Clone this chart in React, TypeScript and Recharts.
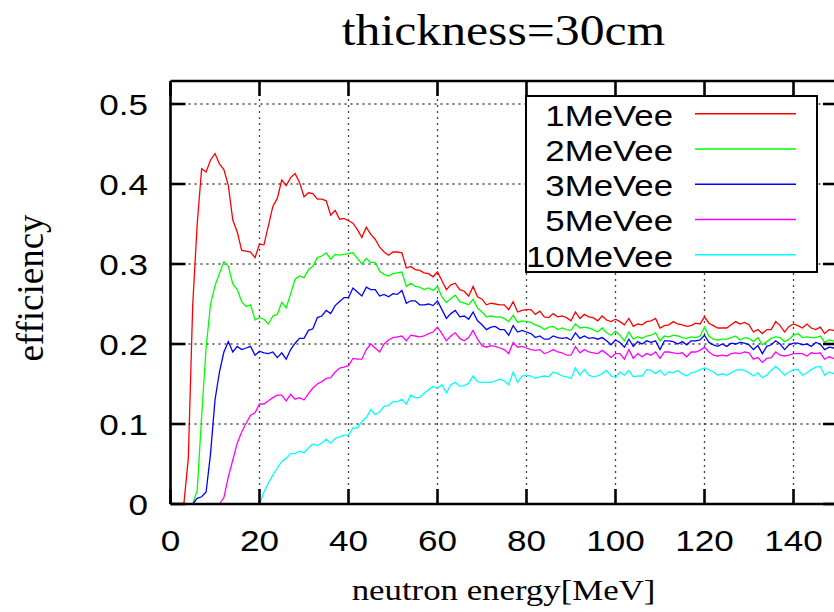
import React from 'react';
import { LineChart, Line, XAxis, YAxis, CartesianGrid } from 'recharts';

const energies = [
  0, 1, 2, 3, 4, 5, 6, 7, 8, 9, 10, 11, 12, 13, 14, 15, 16, 17, 18, 19,
  20, 21, 22, 23, 24, 25, 26, 27, 28, 29, 30, 31, 32, 33, 34, 35, 36, 37, 38, 39,
  40, 41, 42, 43, 44, 45, 46, 47, 48, 49, 50, 51, 52, 53, 54, 55, 56, 57, 58, 59,
  60, 61, 62, 63, 64, 65, 66, 67, 68, 69, 70, 71, 72, 73, 74, 75, 76, 77, 78, 79,
  80, 81, 82, 83, 84, 85, 86, 87, 88, 89, 90, 91, 92, 93, 94, 95, 96, 97, 98, 99,
  100, 101, 102, 103, 104, 105, 106, 107, 108, 109, 110, 111, 112, 113, 114, 115, 116, 117, 118, 119,
  120, 121, 122, 123, 124, 125, 126, 127, 128, 129, 130, 131, 132, 133, 134, 135, 136, 137, 138, 139,
  140, 141, 142, 143, 144, 145, 146, 147, 148, 149, 150,
];

const eff1MeVee = [
  null, null, null, 0, 0.057, 0.25, 0.35, 0.419, 0.415, 0.43,
  0.438, 0.425, 0.418, 0.398, 0.355, 0.34, 0.317, 0.316, 0.315, 0.308,
  0.325, 0.324, 0.348, 0.372, 0.382, 0.405, 0.398, 0.408, 0.413, 0.402,
  0.384, 0.389, 0.388, 0.381, 0.381, 0.379, 0.361, 0.367, 0.356, 0.357,
  0.354, 0.351, 0.343, 0.333, 0.346, 0.337, 0.331, 0.321, 0.315, 0.311,
  0.315, 0.315, 0.314, 0.295, 0.297, 0.293, 0.292, 0.289, 0.288, 0.284,
  0.29, 0.279, 0.268, 0.274, 0.276, 0.268, 0.266, 0.26, 0.272, 0.259,
  0.256, 0.249, 0.251, 0.25, 0.249, 0.249, 0.243, 0.253, 0.24, 0.242,
  0.243, 0.243, 0.237, 0.241, 0.234, 0.233, 0.238, 0.234, 0.235, 0.233,
  0.229, 0.24, 0.232, 0.237, 0.234, 0.233, 0.229, 0.235, 0.23, 0.228,
  0.231, 0.228, 0.224, 0.232, 0.222, 0.225, 0.224, 0.228, 0.229, 0.232,
  0.22, 0.223, 0.224, 0.228, 0.225, 0.224, 0.222, 0.223, 0.226, 0.225,
  0.234, 0.226, 0.223, 0.22, 0.22, 0.22, 0.224, 0.228, 0.225, 0.227,
  0.224, 0.215, 0.218, 0.213, 0.218, 0.218, 0.228, 0.223, 0.215, 0.222,
  0.225, 0.223, 0.22, 0.225, 0.22, 0.218, 0.221, 0.213, 0.218, 0.217,
  0.216,
];

const eff2MeVee = [
  null, null, null, null, null, 0, 0.017, 0.11, 0.195, 0.25,
  0.273, 0.288, 0.303, 0.297, 0.275, 0.268, 0.253, 0.247, 0.249, 0.23,
  0.233, 0.231, 0.225, 0.235, 0.237, 0.252, 0.245, 0.263, 0.281, 0.285,
  0.283, 0.293, 0.297, 0.308, 0.31, 0.314, 0.306, 0.312, 0.311, 0.312,
  0.313, 0.314, 0.307, 0.3, 0.307, 0.302, 0.302, 0.291, 0.287, 0.285,
  0.288, 0.289, 0.29, 0.272, 0.276, 0.272, 0.271, 0.268, 0.27, 0.267,
  0.272, 0.259, 0.252, 0.257, 0.261, 0.253, 0.251, 0.249, 0.256, 0.245,
  0.24, 0.234, 0.235, 0.234, 0.234, 0.232, 0.228, 0.236, 0.227, 0.229,
  0.228, 0.227, 0.224, 0.222, 0.218, 0.221, 0.222, 0.218, 0.22, 0.218,
  0.217, 0.225, 0.22, 0.221, 0.22, 0.218, 0.215, 0.22, 0.214, 0.211,
  0.216, 0.211, 0.204, 0.215, 0.206, 0.209, 0.207, 0.21, 0.211, 0.214,
  0.204, 0.21, 0.209, 0.211, 0.21, 0.208, 0.207, 0.209, 0.208, 0.21,
  0.221, 0.21, 0.206, 0.205, 0.206, 0.206, 0.208, 0.21, 0.205, 0.208,
  0.207, 0.203, 0.208, 0.199, 0.203, 0.207, 0.209, 0.208, 0.203, 0.206,
  0.211, 0.213, 0.208, 0.209, 0.208, 0.208, 0.21, 0.202, 0.205, 0.204,
  0.205,
];

const eff3MeVee = [
  null, null, null, null, null, 0, 0.007, 0.009, 0.015, 0.063,
  0.13, 0.165, 0.19, 0.203, 0.19, 0.197, 0.193, 0.195, 0.197, 0.186,
  0.191, 0.189, 0.188, 0.19, 0.183, 0.189, 0.181, 0.193, 0.201, 0.207,
  0.207, 0.217, 0.219, 0.233, 0.235, 0.242, 0.238, 0.248, 0.253, 0.258,
  0.258, 0.27, 0.265, 0.26, 0.271, 0.268, 0.268, 0.26, 0.262, 0.259,
  0.263, 0.262, 0.267, 0.251, 0.254, 0.254, 0.249, 0.249, 0.25, 0.248,
  0.254, 0.243, 0.232, 0.238, 0.242, 0.234, 0.235, 0.231, 0.24, 0.229,
  0.224, 0.218, 0.221, 0.222, 0.218, 0.218, 0.211, 0.223, 0.215, 0.217,
  0.215, 0.213, 0.208, 0.21, 0.206, 0.206, 0.21, 0.208, 0.207, 0.208,
  0.205, 0.214, 0.207, 0.21, 0.207, 0.208, 0.206, 0.208, 0.204, 0.199,
  0.205, 0.202, 0.196, 0.206, 0.197, 0.203, 0.2, 0.204, 0.202, 0.204,
  0.193, 0.204, 0.204, 0.203, 0.2, 0.203, 0.199, 0.204, 0.204, 0.205,
  0.211, 0.202, 0.199, 0.197, 0.2, 0.197, 0.201, 0.2, 0.202, 0.201,
  0.199, 0.193, 0.198, 0.188, 0.197, 0.199, 0.204, 0.2, 0.193, 0.199,
  0.201, 0.201, 0.199, 0.2, 0.197, 0.202, 0.2, 0.193, 0.196, 0.195,
  0.195,
];

const eff5MeVee = [
  null, null, null, null, null, null, null, null, null, null,
  null, 0, 0.008, 0.034, 0.055, 0.076, 0.09, 0.101, 0.111, 0.114,
  0.125, 0.125, 0.129, 0.133, 0.136, 0.136, 0.129, 0.137, 0.131, 0.133,
  0.13, 0.138, 0.145, 0.15, 0.153, 0.157, 0.158, 0.165, 0.17, 0.171,
  0.173, 0.182, 0.181, 0.181, 0.193, 0.2, 0.195, 0.19, 0.2, 0.205,
  0.208, 0.209, 0.21, 0.204, 0.211, 0.21, 0.209, 0.21, 0.213, 0.215,
  0.221, 0.213, 0.204, 0.21, 0.214, 0.207, 0.204, 0.208, 0.217, 0.206,
  0.198, 0.196, 0.198, 0.197, 0.195, 0.193, 0.188, 0.202, 0.196, 0.197,
  0.195, 0.193, 0.192, 0.193, 0.188, 0.19, 0.193, 0.19, 0.189, 0.186,
  0.186, 0.197, 0.189, 0.193, 0.19, 0.189, 0.188, 0.192, 0.188, 0.183,
  0.188, 0.188, 0.181, 0.193, 0.182, 0.188, 0.184, 0.188, 0.186, 0.19,
  0.182, 0.19, 0.19, 0.189, 0.188, 0.189, 0.184, 0.19, 0.19, 0.192,
  0.196, 0.19, 0.186, 0.185, 0.186, 0.185, 0.188, 0.189, 0.188, 0.19,
  0.189, 0.181, 0.183, 0.177, 0.182, 0.183, 0.19, 0.186, 0.185, 0.186,
  0.188, 0.188, 0.188, 0.185, 0.189, 0.188, 0.189, 0.181, 0.184, 0.182,
  0.182,
];

const eff10MeVee = [
  null, null, null, null, null, null, null, null, null, null,
  null, null, null, null, null, null, null, null, null, null,
  0, 0.015, 0.026, 0.036, 0.045, 0.053, 0.057, 0.063, 0.063, 0.066,
  0.064, 0.07, 0.075, 0.073, 0.076, 0.081, 0.076, 0.082, 0.084, 0.086,
  0.086, 0.095, 0.095, 0.103, 0.108, 0.118, 0.112, 0.115, 0.122, 0.123,
  0.128, 0.128, 0.131, 0.125, 0.136, 0.133, 0.133, 0.138, 0.143, 0.147,
  0.145, 0.149, 0.139, 0.149, 0.152, 0.147, 0.148, 0.151, 0.16, 0.153,
  0.152, 0.152, 0.152, 0.154, 0.156, 0.154, 0.149, 0.165, 0.152, 0.16,
  0.161, 0.16, 0.157, 0.159, 0.16, 0.159, 0.165, 0.163, 0.16, 0.159,
  0.157, 0.17, 0.161, 0.168, 0.161, 0.159, 0.16, 0.163, 0.167, 0.16,
  0.158, 0.165, 0.161, 0.167, 0.159, 0.16, 0.16, 0.168, 0.167, 0.163,
  0.167, 0.161, 0.165, 0.164, 0.167, 0.163, 0.16, 0.164, 0.165, 0.168,
  0.17, 0.168, 0.165, 0.161, 0.163, 0.161, 0.164, 0.167, 0.168, 0.167,
  0.164, 0.16, 0.164, 0.158, 0.161, 0.167, 0.172, 0.167, 0.161, 0.165,
  0.168, 0.168, 0.161, 0.164, 0.168, 0.171, 0.172, 0.161, 0.165, 0.163,
  0.163,
];

const seriesNames = ['1MeVee', '2MeVee', '3MeVee', '5MeVee', '10MeVee'];
const seriesKeys = ['s1', 's2', 's3', 's5', 's10'];
const seriesColors = ['#ff0000', '#00ff00', '#0000ff', '#ff00ff', '#00ffff'];
const seriesValues = [eff1MeVee, eff2MeVee, eff3MeVee, eff5MeVee, eff10MeVee];

const xTicks = [0, 20, 40, 60, 80, 100, 120, 140];
const yTicks = [0, 0.1, 0.2, 0.3, 0.4, 0.5];
const yTickLabels = ['0', '0.1', '0.2', '0.3', '0.4', '0.5'];

const titleText = 'thickness=30cm';
const xLabelText = 'neutron energy[MeV]';
const yLabelText = 'efficiency';

const rows = energies.map((e, i) => {
  const row: Record<string, number | null> = { e };
  seriesKeys.forEach((k, j) => {
    row[k] = seriesValues[j][i];
  });
  return row;
});

const SANS = '"Liberation Sans", Arial, Helvetica, sans-serif';
const SERIF = '"Liberation Serif", "Times New Roman", Times, serif';
const TICK_LEN = 15;
const AXIS_W = 2.6;
const STRETCH = 1.17;
const TICK_FONT = 30;

const CHART_W = 860;
const CHART_H = 612;
// plot area: left 170.5, top 81, right 838, bottom 504
const PLOT_L = 170.5;
const PLOT_T = 81;
const PLOT_R = 838;
const PLOT_B = 504;
const LEFT_W = 60;
const RIGHT_W = 10;
const TOP_H = 20;
const BOTTOM_H = 60;
const MARGIN = {
  top: PLOT_T - TOP_H,
  right: CHART_W - PLOT_R - RIGHT_W,
  bottom: CHART_H - PLOT_B - BOTTOM_H,
  left: PLOT_L - LEFT_W,
};
const X_MIN = 0;
const X_MAX = 150;
const Y_MIN = 0;
const Y_MAX = 0.52875;

// linear mapping identical to the chart's axes, used only for the inward border tick marks
const xPx = (v: number) => PLOT_L + ((v - X_MIN) / (X_MAX - X_MIN)) * (PLOT_R - PLOT_L);
const yPx = (v: number) => PLOT_B - ((v - Y_MIN) / (Y_MAX - Y_MIN)) * (PLOT_B - PLOT_T);

const BottomTick = (props: any) => {
  const { x, y, payload } = props;
  return (
    <text
      transform={`translate(${x},${y + 47}) scale(${STRETCH},1)`}
      textAnchor="middle"
      fontFamily={SANS}
      fontSize={TICK_FONT}
      fill="#000"
    >
      {String(payload.value)}
    </text>
  );
};

const LeftTick = (props: any) => {
  const { x, y, payload } = props;
  const idx = yTicks.indexOf(payload.value);
  const label = idx >= 0 ? yTickLabels[idx] : String(payload.value);
  return (
    <text
      transform={`translate(${x - 22.5},${y}) scale(${STRETCH},1)`}
      textAnchor="end"
      dy="0.36em"
      fontFamily={SANS}
      fontSize={TICK_FONT}
      fill="#000"
    >
      {label}
    </text>
  );
};

const NoLabel = () => <g />;

const axisLine = { stroke: '#000', strokeWidth: AXIS_W };

export default function App() {
  const legendTop = 113.7;
  const legendStep = 35.25;
  return (
    <div
      style={{
        position: 'absolute',
        left: 0,
        top: 0,
        width: 834,
        height: 612,
        overflow: 'hidden',
        background: '#fff',
      }}
    >
      <LineChart width={CHART_W} height={CHART_H} data={rows} margin={MARGIN}>
        <CartesianGrid
          xAxisId="b"
          yAxisId="l"
          stroke="#444"
          strokeWidth={1.3}
          strokeDasharray="2 4"
          vertical
          horizontal
        />
        <XAxis
          xAxisId="b"
          dataKey="e"
          type="number"
          domain={[X_MIN, X_MAX]}
          ticks={xTicks}
          interval={0}
          height={BOTTOM_H}
          tickSize={0}
          tickMargin={0}
          tickLine={false}
          axisLine={axisLine}
          tick={BottomTick}
          allowDataOverflow
        />
        <XAxis
          xAxisId="t"
          orientation="top"
          dataKey="e"
          type="number"
          domain={[X_MIN, X_MAX]}
          ticks={xTicks}
          interval={0}
          height={TOP_H}
          tickSize={0}
          tickMargin={0}
          tickLine={false}
          axisLine={axisLine}
          tick={NoLabel}
          allowDataOverflow
        />
        <YAxis
          yAxisId="l"
          type="number"
          domain={[Y_MIN, Y_MAX]}
          ticks={yTicks}
          interval={0}
          width={LEFT_W}
          tickSize={0}
          tickMargin={0}
          tickLine={false}
          axisLine={axisLine}
          tick={LeftTick}
          allowDataOverflow
        />
        <YAxis
          yAxisId="r"
          orientation="right"
          type="number"
          domain={[Y_MIN, Y_MAX]}
          ticks={yTicks}
          interval={0}
          width={RIGHT_W}
          tickSize={0}
          tickMargin={0}
          tickLine={false}
          axisLine={axisLine}
          tick={NoLabel}
          allowDataOverflow
        />
        {seriesKeys.map((k, j) => (
          <Line
            key={k}
            xAxisId="b"
            yAxisId="l"
            type="linear"
            dataKey={k}
            name={seriesNames[j]}
            stroke={seriesColors[j]}
            strokeWidth={1.3}
            dot={false}
            activeDot={false}
            connectNulls={false}
            isAnimationActive={false}
          />
        ))}
      </LineChart>
      <svg
        width={834}
        height={612}
        style={{ position: 'absolute', left: 0, top: 0, pointerEvents: 'none' }}
      >
        <g stroke="#000" strokeWidth={AXIS_W}>
          {xTicks.map((t) => (
            <g key={`xt-${t}`}>
              <line x1={xPx(t)} y1={PLOT_B} x2={xPx(t)} y2={PLOT_B - TICK_LEN} />
              <line x1={xPx(t)} y1={PLOT_T} x2={xPx(t)} y2={PLOT_T + TICK_LEN} />
            </g>
          ))}
          {yTicks.map((t) => (
            <g key={`yt-${t}`}>
              <line x1={PLOT_L} y1={yPx(t)} x2={PLOT_L + TICK_LEN} y2={yPx(t)} />
              <line x1={PLOT_R} y1={yPx(t)} x2={PLOT_R - TICK_LEN} y2={yPx(t)} />
            </g>
          ))}
        </g>
        <text
          transform="translate(503.5,45) scale(1.13,1)"
          textAnchor="middle"
          fontFamily={SERIF}
          fontSize={44}
          fill="#000"
        >
          {titleText}
        </text>
        <text
          transform="translate(503.5,600) scale(1.18,1)"
          textAnchor="middle"
          fontFamily={SERIF}
          fontSize={29.5}
          fill="#000"
        >
          {xLabelText}
        </text>
        <text
          transform="translate(43,288) rotate(-90)"
          textAnchor="middle"
          fontFamily={SERIF}
          fontSize={37}
          fill="#000"
        >
          {yLabelText}
        </text>
        <g>
          <rect x={526} y={96} width={291} height={176} fill="#fff" stroke="#000" strokeWidth={2} />
          {seriesNames.map((n, j) => {
            const yy = legendTop + j * legendStep;
            return (
              <g key={n}>
                <text
                  transform={`translate(673,${yy + 12}) scale(1.2,1)`}
                  textAnchor="end"
                  fontFamily={SANS}
                  fontSize={29}
                  fill="#000"
                >
                  {n}
                </text>
                <line x1={695} y1={yy} x2={796} y2={yy} stroke={seriesColors[j]} strokeWidth={1.4} />
              </g>
            );
          })}
        </g>
      </svg>
    </div>
  );
}
